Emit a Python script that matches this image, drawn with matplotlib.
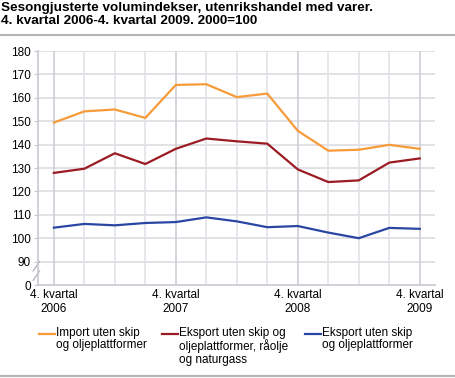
import numpy as np
import matplotlib.pyplot as plt
from matplotlib.lines import Line2D

plt.rcParams['font.family'] = ['Liberation Sans', 'DejaVu Sans']

quarters = list(range(13))
x_labels = ['4. kvartal\n2006', '4. kvartal\n2007', '4. kvartal\n2008', '4. kvartal\n2009']
import_vals = [149.4, 154.2, 155.0, 151.4, 165.5, 165.8, 160.3, 161.8, 145.9, 137.4, 137.8, 139.9, 138.2]
eksport_rao = [127.9, 129.7, 136.3, 131.7, 138.2, 142.6, 141.4, 140.4, 129.4, 124.0, 124.7, 132.3, 134.1]
eksport_vals = [104.5, 106.1, 105.5, 106.5, 106.9, 108.9, 107.2, 104.7, 105.2, 102.4, 100.0, 104.4, 104.0]
names = ['Import uten skip\nog oljeplattformer',
         'Eksport uten skip og\noljeplattformer, råolje\nog naturgass',
         'Eksport uten skip\nog oljeplattformer']
colors = ['#f79a3a', '#9a1b22', '#2a46a3']

fig = plt.figure(figsize=(4.55, 3.78), dpi=100)
ax = fig.add_axes([38 / 455, 1 - 285 / 378, (435 - 38) / 455, (285 - 51) / 378])

for vals, c in zip([import_vals, eksport_rao, eksport_vals], colors):
    ax.plot(quarters, vals, color=c, lw=1.6, solid_joinstyle='round')

ax.set_xlim(-0.52, 12.5)
ax.set_ylim(80, 180)
yt = list(range(80, 181, 10))
ax.set_yticks(yt)
ax.set_yticklabels(['0'] + [str(v) for v in yt[1:]], fontsize=8.5)
ax.set_xticks([0, 4, 8, 12])
ax.set_xticklabels(x_labels, fontsize=8.5, linespacing=1.25)
ax.tick_params(axis='x', which='both', length=0, pad=3)
ax.tick_params(axis='y', length=3, color='#c8c8d0', pad=2)

for v in yt[1:]:
    ax.axhline(v, color='#dcdce2', lw=1.2, zorder=0)
for q in quarters:
    ax.axvline(q, color='#cdcdd4' if q % 4 == 0 else '#e2e2e8', lw=1.2, zorder=0)

for s in ['top', 'right']:
    ax.spines[s].set_visible(False)
for s in ['left', 'bottom']:
    ax.spines[s].set_color('#c8c8d0')
    ax.spines[s].set_linewidth(1.2)

# axis break marks
for dy in (0, 4):
    ax.plot([-0.012, 0.004], [82 + dy, 86 + dy],
            transform=ax.get_yaxis_transform(), color='#b0b0b8', lw=0.9, clip_on=False)

fig.text(0.002, 0.995, 'Sesongjusterte volumindekser, utenrikshandel med varer.\n4. kvartal 2006-4. kvartal 2009. 2000=100',
         fontsize=9.7, fontweight='bold', va='top', ha='left', linespacing=1.12)
fig.add_artist(Line2D([0, 1], [1 - 35 / 378] * 2, color='#b4b4b4', lw=1.5))
fig.add_artist(Line2D([0, 1], [1 - 376 / 378] * 2, color='#b4b4b4', lw=1.5))

handle_x = [39, 162, 305]
for hx, name, c in zip(handle_x, names, colors):
    fig.add_artist(Line2D([hx / 455, (hx + 16) / 455], [1 - 334 / 378] * 2, color=c, lw=1.6))
    fig.text((hx + 17) / 455, 1 - 327 / 378, name, fontsize=8.5, va='top', ha='left', linespacing=1.05)

fig.savefig('out.png', dpi=100)
